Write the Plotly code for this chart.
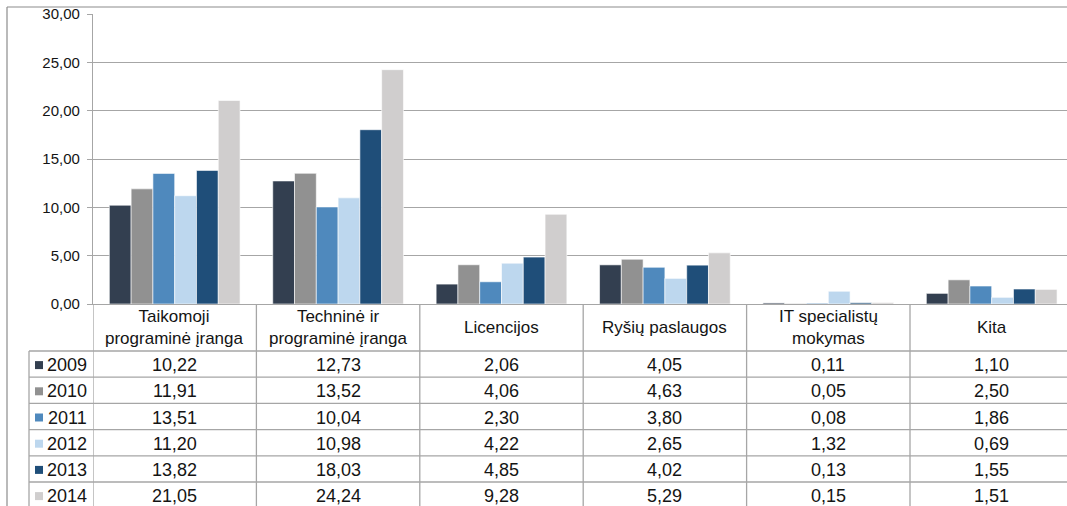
import plotly.graph_objects as go

# IT išlaidos pagal kategorijas (2009-2014)
categories = ['Taikomoji<br>programinė įranga', 'Techninė ir<br>programinė įranga',
              'Licencijos', 'Ryšių paslaugos', 'IT specialistų<br>mokymas', 'Kita']
years = ['2009', '2010', '2011', '2012', '2013', '2014']
v2009 = [10.22, 12.73, 2.06, 4.05, 0.11, 1.10]
v2010 = [11.91, 13.52, 4.06, 4.63, 0.05, 2.50]
v2011 = [13.51, 10.04, 2.30, 3.80, 0.08, 1.86]
v2012 = [11.20, 10.98, 4.22, 2.65, 1.32, 0.69]
v2013 = [13.82, 18.03, 4.85, 4.02, 0.13, 1.55]
v2014 = [21.05, 24.24, 9.28, 5.29, 0.15, 1.51]
series = [v2009, v2010, v2011, v2012, v2013, v2014]
colors = ['#333f50', '#919191', '#4f89bd', '#bdd7ee', '#1f4e79', '#d0cece']

W, H = 1067, 506
PLOT_L, COL_W = 93, 163.4
Y_TOP, Y_ZERO = 14, 304
ROW_TOP, ROW_H = 351, 26.2
LEG_L = 29
FONT = 'Liberation Sans, Arial, sans-serif'
LINE = '#a6a6a6'
TXT = '#141414'


def py(p):
    # pikseliai -> paper y
    return (H - p) / H


def px(p):
    return p / W


def fmt(v):
    return f'{v:.2f}'.replace('.', ',')


xs = list(range(len(categories)))
fig = go.Figure()
for yr, vals, c in zip(years, series, colors):
    fig.add_trace(go.Bar(x=xs, y=vals, name=yr, marker=dict(color=c, line=dict(color='white', width=0.6))))

shapes = []
ann = []

# išorinis rėmelis
shapes.append(dict(type='line', xref='paper', yref='paper', x0=px(7), x1=1, y0=py(7), y1=py(7),
                   line=dict(color='#8c8c8c', width=1.2)))
shapes.append(dict(type='line', xref='paper', yref='paper', x0=px(7), x1=px(7), y0=py(7), y1=0,
                   line=dict(color='#8c8c8c', width=1.2)))

# lentelės vertikalios linijos
for i in range(len(categories) + 1):
    shapes.append(dict(type='line', xref='x', yref='paper', x0=i - 0.5, x1=i - 0.5, y0=py(Y_ZERO), y1=0,
                       line=dict(color=LINE, width=1.3)))
shapes.append(dict(type='line', xref='paper', yref='paper', x0=px(LEG_L), x1=px(LEG_L), y0=py(ROW_TOP), y1=0,
                   line=dict(color=LINE, width=1.3)))

# horizontalios linijos
for r in range(len(years) + 1):
    yy = py(ROW_TOP + r * ROW_H)
    shapes.append(dict(type='line', xref='paper', yref='paper', x0=px(LEG_L), x1=1, y0=yy, y1=yy,
                       line=dict(color=LINE, width=1.3)))

# antraštės
for i, cat in enumerate(categories):
    ann.append(dict(x=i, y=py((Y_ZERO + ROW_TOP) / 2), xref='x', yref='paper', text=cat,
                    showarrow=False, font=dict(size=17, color=TXT, family=FONT),
                    xanchor='center', yanchor='middle'))

# eilutės
for r, (yr, vals, c) in enumerate(zip(years, series, colors)):
    yc = ROW_TOP + r * ROW_H + ROW_H / 2 + 1
    shapes.append(dict(type='rect', xref='paper', yref='paper', x0=px(35), x1=px(43),
                       y0=py(yc + 4), y1=py(yc - 4), fillcolor=c, line=dict(width=0)))
    ann.append(dict(x=px(89), y=py(yc), xref='paper', yref='paper', text=yr, showarrow=False,
                    font=dict(size=18, color=TXT, family=FONT), xanchor='right', yanchor='middle'))
    for i, v in enumerate(vals):
        ann.append(dict(x=i, y=py(yc), xref='x', yref='paper', text=fmt(v), showarrow=False,
                        font=dict(size=18, color=TXT, family=FONT), xanchor='center', yanchor='middle'))

fig.update_layout(
    width=W, height=H,
    margin=dict(l=0, r=0, t=0, b=0, pad=0),
    paper_bgcolor='white', plot_bgcolor='white',
    showlegend=False,
    barmode='group', bargap=0.2, bargroupgap=0,
    separators=', ',
    font=dict(family=FONT, color=TXT),
    xaxis=dict(domain=[px(PLOT_L), 1], range=[-0.5, -0.5 + (W - PLOT_L) / COL_W], automargin=False,
               showticklabels=False, showgrid=False, zeroline=False, ticks='',
               showline=True, linecolor=LINE, linewidth=1.3),
    yaxis=dict(domain=[py(Y_ZERO), py(Y_TOP)], range=[0, 30], dtick=5, tickformat='.2f', automargin=False,
               showgrid=True, gridcolor=LINE, gridwidth=1.3, zeroline=False,
               showline=True, linecolor=LINE, linewidth=1.3,
               ticks='outside', ticklen=5, tickcolor=LINE, ticklabelstandoff=4,
               tickfont=dict(size=15, color=TXT, family=FONT)),
    shapes=shapes, annotations=ann,
)

# be body paraščių, kad grafikas prasidėtų nuo kampo
fig.write_html('out.html', config={'displayModeBar': False},
               post_script="document.body.style.margin='0';document.body.style.overflow='hidden';")
